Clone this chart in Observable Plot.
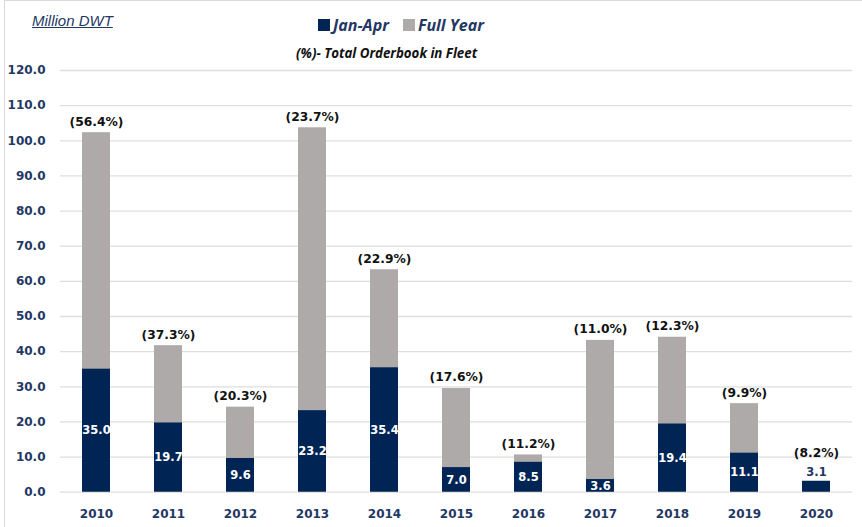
<!DOCTYPE html>
<html>
<head>
<meta charset="utf-8">
<script src="https://cdn.jsdelivr.net/npm/d3@7"></script>
<script src="https://cdn.jsdelivr.net/npm/@observablehq/plot@0.6"></script>
<style>
  html, body { margin: 0; padding: 0; background: #fff; }
  #wrap { position: relative; width: 862px; height: 527px; overflow: hidden; }
  #frame { position: absolute; left: 4px; top: 0; width: 900px; height: 600px;
           border-left: 1px solid #d9d9d9; border-top: 1px solid #d9d9d9; pointer-events: none; }
  #header { position: relative; height: 60px; }
  #unit { position: absolute; left: 32px; top: 12px; font: italic 15px "Liberation Sans", Arial, sans-serif;
          color: #1f3864; text-decoration: underline; white-space: nowrap; }
  #legend { position: absolute; left: 318px; top: 14px; font: italic bold 16px "Open Sans", sans-serif;
            color: #1f3864; white-space: nowrap; display: flex; align-items: center; }
  #legend .sw { display: inline-block; width: 12px; height: 12px; margin-right: 3px; }
  #legend .item { display: flex; align-items: center; margin-right: 14px; }
  #sub { position: absolute; left: 296px; top: 44px; font: italic bold 13.3px "Open Sans", sans-serif;
         color: #111; white-space: nowrap; }
</style>
</head>
<body>
<div id="wrap">
  <div id="header">
    <div id="unit">Million DWT</div>
    <div id="legend"></div>
    <div id="sub">(%)- Total Orderbook in Fleet</div>
  </div>
  <div id="chart"></div>
  <div id="frame"></div>
</div>
<script>
const years = ["2010","2011","2012","2013","2014","2015","2016","2017","2018","2019","2020"];
const janApr = [35.0, 19.7, 9.6, 23.2, 35.4, 7.0, 8.5, 3.6, 19.4, 11.1, 3.1];
const fullYear = [102.3, 41.7, 24.2, 103.7, 63.3, 29.5, 10.6, 43.2, 44.1, 25.2, 3.1];
const orderbookPct = ["(56.4%)","(37.3%)","(20.3%)","(23.7%)","(22.9%)","(17.6%)","(11.2%)","(11.0%)","(12.3%)","(9.9%)","(8.2%)"];
const yTicks = [0,10,20,30,40,50,60,70,80,90,100,110,120];
const seriesNames = ["Jan-Apr", "Full Year"];
const seriesColors = ["#002555", "#aeaaaa"];

const data = years.map((y, i) => ({year: y, jan: janApr[i], full: fullYear[i], pct: orderbookPct[i]}));
const hasGray = d => d.full > d.jan;

// legend
const lg = document.getElementById("legend");
seriesNames.forEach((n, i) => {
  const it = document.createElement("span");
  it.className = "item";
  const sw = document.createElement("span");
  sw.className = "sw";
  sw.style.background = seriesColors[i];
  it.appendChild(sw);
  it.appendChild(document.createTextNode(n));
  lg.appendChild(it);
});

const chart = Plot.plot({
  width: 862,
  height: 467,
  marginLeft: 60,
  marginRight: 10,
  marginTop: 10,
  marginBottom: 35.3,
  style: {background: "transparent"},
  x: {domain: years, paddingInner: 0.607, paddingOuter: 0.3035, label: null},
  y: {domain: [0, 120], label: null},
  marks: [
    Plot.ruleY(yTicks, {stroke: "#dedede", strokeWidth: 1.3}),
    Plot.axisY({ticks: yTicks, tickSize: 0, tickPadding: 15, tickFormat: d => d.toFixed(1),
      fontFamily: "DejaVu Sans", fontWeight: "bold", fontSize: 12, fill: "#1f3864", label: null}),
    Plot.axisX({tickSize: 0, tickPadding: 17, fontFamily: "DejaVu Sans", fontWeight: "bold",
      fontSize: 12, fill: "#1f3864", label: null}),
    Plot.barY(data, {x: "year", y1: 0, y2: "full", fill: seriesColors[1]}),
    Plot.barY(data, {x: "year", y1: 0, y2: "jan", fill: seriesColors[0]}),
    Plot.text(data.filter(hasGray), {x: "year", y: d => d.jan / 2, text: d => d.jan.toFixed(1),
      fill: "#fff", fontFamily: "DejaVu Sans", fontWeight: "bold", fontSize: 11.5}),
    Plot.text(data.filter(d => !hasGray(d)), {x: "year", y: "jan", dy: -9, text: d => d.jan.toFixed(1),
      fill: "#1f3864", fontFamily: "DejaVu Sans", fontWeight: "bold", fontSize: 11.5}),
    Plot.text(data.filter(hasGray), {x: "year", y: "full", dy: -11, text: "pct",
      fill: "#111", fontFamily: "DejaVu Sans", fontWeight: "bold", fontSize: 12.3}),
    Plot.text(data.filter(d => !hasGray(d)), {x: "year", y: "full", dy: -28, text: "pct",
      fill: "#111", fontFamily: "DejaVu Sans", fontWeight: "bold", fontSize: 12.3})
  ]
});
document.getElementById("chart").appendChild(chart);
</script>
</body>
</html>
